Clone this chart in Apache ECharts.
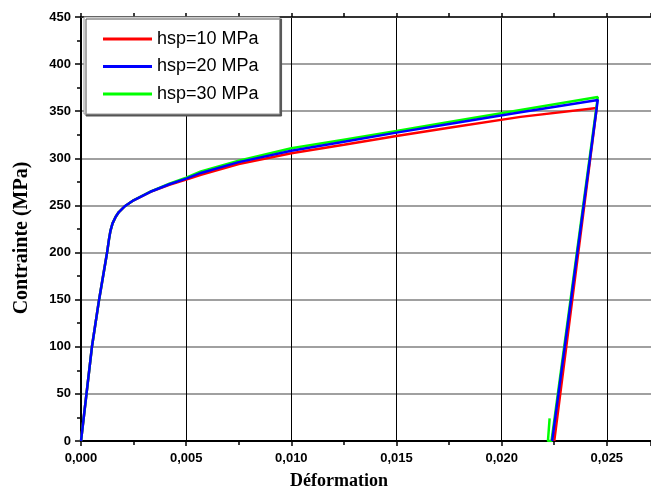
<!DOCTYPE html>
<html><head><meta charset="utf-8">
<script src="https://cdn.jsdelivr.net/npm/echarts@6/dist/echarts.min.js"></script>
<style>html,body{margin:0;padding:0;background:#fff}#c{width:651px;height:491px}</style>
</head><body><div id="c"></div>
<script>
// ---- data ----
const seriesNames = ['hsp=10 MPa', 'hsp=20 MPa', 'hsp=30 MPa'];
const xTicks = [0, 0.005, 0.010, 0.015, 0.020, 0.025];
const yTicks = [0, 50, 100, 150, 200, 250, 300, 350, 400, 450];

const strainRed   = [0, 0.00052, 0.00086, 0.00124, 0.00133, 0.0014, 0.0015, 0.00165, 0.0018, 0.0021, 0.0025, 0.0033, 0.0042, 0.0050, 0.0057, 0.0075, 0.010, 0.0125, 0.015, 0.0175, 0.0209, 0.02452, 0.0225];
const stressRed   = [0, 100, 150, 200, 214, 223, 231, 238, 243, 249.5, 255.5, 264.5, 272, 277.5, 282.5, 294, 305.4, 314.5, 323.8, 332.5, 344, 353.5, 0];

const strainBlue  = [0, 0.00052, 0.00086, 0.00124, 0.00133, 0.0014, 0.0015, 0.00165, 0.0018, 0.0021, 0.0025, 0.0033, 0.0042, 0.0050, 0.0057, 0.0075, 0.010, 0.0125, 0.015, 0.0175, 0.0209, 0.02457, 0.0224];
const stressBlue  = [0, 100, 150, 200, 214, 223, 231, 238, 243, 249.5, 255.5, 264.5, 272.5, 278.5, 284.5, 296, 308.1, 317.7, 327.3, 336.5, 349, 362, 0];

const strainGreen = [0, 0.00052, 0.00086, 0.00124, 0.00133, 0.0014, 0.0015, 0.00165, 0.0018, 0.0021, 0.0025, 0.0033, 0.0042, 0.0050, 0.0057, 0.0075, 0.010, 0.0125, 0.015, 0.0175, 0.0209, 0.02457, 0.02237, 0.0222, 0.02228];
const stressGreen = [0, 100, 150, 200, 214, 223, 231, 238, 243, 249.5, 255.5, 264.7, 273, 279.5, 286, 297.5, 310.7, 319.8, 329, 338.5, 351.4, 365, 0, 0, 24];

const pairs = (xs, ys) => xs.map((x, i) => [x, ys[i]]);
const fmtX = v => v.toFixed(3).replace('.', ',');

const chart = echarts.init(document.getElementById('c'), null, {renderer: 'canvas'});
const tickFont = {fontFamily: 'Liberation Sans, Arial, sans-serif', fontWeight: 'bold', fontSize: 13, color: '#000'};

chart.setOption({
  animation: false,
  backgroundColor: '#fff',
  grid: {left: 81, top: 17, right: 0, bottom: 50, containLabel: false},
  legend: {
    data: seriesNames,
    orient: 'vertical',
    left: 84, top: 17,
    padding: [12, 21, 10, 19],
    itemWidth: 49, itemHeight: 3, itemGap: 7.5,
    icon: 'rect',
    backgroundColor: '#fff',
    borderColor: '#999', borderWidth: 1,
    shadowColor: '#555', shadowOffsetX: 2, shadowOffsetY: 2, shadowBlur: 0,
    textStyle: {fontFamily: 'Liberation Sans, Arial, sans-serif', fontSize: 18, color: '#000', lineHeight: 20}
  },
  xAxis: [{
    type: 'value', min: 0, max: 0.0271, interval: 0.005, position: 'bottom',
    axisLine: {show: true, onZero: false, lineStyle: {color: '#000', width: 2}},
    axisTick: {show: true, inside: false, length: 5, lineStyle: {color: '#000', width: 1.5}},
    minorTick: {show: true, splitNumber: 2, length: 4, lineStyle: {color: '#000', width: 1.5}},
    axisLabel: Object.assign({margin: 11, showMaxLabel: false, formatter: v => xTicks.some(t => Math.abs(t - v) < 1e-9) ? fmtX(v) : ''}, tickFont),
    splitLine: {show: true, lineStyle: {color: '#000', width: 1}}
  }, {
    type: 'value', min: 0, max: 0.0271, interval: 0.005, position: 'top',
    axisLine: {show: true, onZero: false, lineStyle: {color: '#333', width: 2}},
    axisTick: {show: true, inside: false, length: 4, lineStyle: {color: '#000', width: 1.5}},
    minorTick: {show: true, splitNumber: 2, length: 4, lineStyle: {color: '#000', width: 1.5}},
    axisLabel: {show: false},
    splitLine: {show: false}
  }],
  yAxis: {
    type: 'value', min: 0, max: 450, interval: 50,
    axisLine: {show: true, onZero: false, lineStyle: {color: '#000', width: 2}},
    axisTick: {show: true, inside: false, length: 6, lineStyle: {color: '#000', width: 1.5}},
    minorTick: {show: true, splitNumber: 2, length: 4, lineStyle: {color: '#000', width: 1.5}},
    axisLabel: Object.assign({margin: 10, formatter: v => yTicks.includes(v) ? String(v) : ''}, tickFont),
    splitLine: {show: true, lineStyle: {color: '#808080', width: 1.5}}
  },
  graphic: [{
    type: 'text', x: 339, y: 481,
    style: {text: 'Déformation', font: 'bold 18px "Liberation Serif", "Times New Roman", serif', fill: '#000', textAlign: 'center', textVerticalAlign: 'middle'}
  }, {
    type: 'text', x: 22, y: 238, rotation: Math.PI / 2,
    style: {text: 'Contrainte (MPa)', font: 'bold 20px "Liberation Serif", "Times New Roman", serif', fill: '#000', textAlign: 'center', textVerticalAlign: 'middle'}
  }],
  series: [
    {name: seriesNames[0], type: 'line', xAxisIndex: 0, data: pairs(strainRed, stressRed), showSymbol: false, color: '#ff0000', lineStyle: {width: 2.5, color: '#ff0000'}, z: 3},
    {name: seriesNames[2], type: 'line', xAxisIndex: 0, data: pairs(strainGreen, stressGreen), showSymbol: false, color: '#00ff00', lineStyle: {width: 2.5, color: '#00ff00'}, z: 4},
    {name: seriesNames[1], type: 'line', xAxisIndex: 0, data: pairs(strainBlue, stressBlue), showSymbol: false, color: '#0000ff', lineStyle: {width: 2.5, color: '#0000ff'}, z: 5}
  ]
});
</script></body></html>
